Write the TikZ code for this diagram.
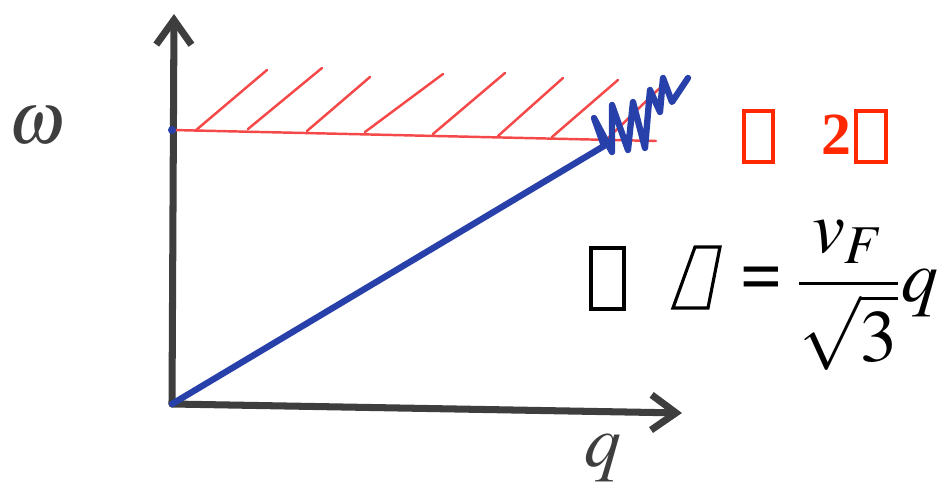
\documentclass[tikz,border=0pt]{standalone}
\usepackage{mathptmx}
\usepackage[no-math]{fontspec}
\setmainfont{Liberation Serif}
\usetikzlibrary{arrows.meta, positioning}
\definecolor{PenGray}{RGB}{62, 62, 62}
\definecolor{PenBlue}{RGB}{40, 64, 170}
\definecolor{PenRed}{RGB}{245, 72, 72}
\definecolor{TitleRed}{RGB}{255, 40, 0}

\begin{document}
\begin{tikzpicture}[x=0.01cm, y=-0.01cm,
		axis/.style={draw=PenGray, line width=2pt, line cap=round, -{Straight Barb[length=7pt, width=10pt]}},
		hatch/.style={draw=PenRed, line width=0.7pt, line cap=round},
		sound/.style={draw=PenBlue, line width=1.8pt, line cap=round, line join=round},
		tofu/.style={line width=1.1pt},
		hand/.style={text=PenGray, font=\fontsize{21}{25}\selectfont}]
	\useasboundingbox (0,0) rectangle (938,491);
	% axes
	\coordinate (O) at (172,404);
	\coordinate (ytop) at (174,14);
	\coordinate (xend) at (682,413);
	\draw[axis] (O) -- (ytop);
	\draw[axis] (O) -- (xend);
	\node[hand] (w) at (37,126) {$\omega$};
	\node[hand] (q) at (603,458) {$q$};
	% continuum edge with hatching
	\coordinate (c0) at (172,130);
	\coordinate (c1) at (656,141);
	\draw[hatch] (c0) -- (c1);
	\foreach \xa/\ya/\xb/\yb in {195/131/267/70, 248/129/322/68, 307/131/370/77, 365/132/443/74,
			433/134/505/73, 498/136/563/78, 552/137/618/80, 607/139/665/83}
		\draw[hatch] (\xa,\ya) -- (\xb,\yb);
	\fill[PenBlue] (c0) circle (4);
	% sound mode, damped at the edge
	\coordinate (damp) at (604,146);
	\draw[sound] (O) -- (damp) -- (594,118) -- (612,152) -- (612,105) -- (628,150) -- (633,102)
		-- (645,148) -- (650,90) -- (660,112) -- (663,78) -- (672,102) -- (688,78);
	% label (2)
	\node[anchor=base, text=TitleRed, font=\fontsize{17}{20}\selectfont\bfseries] (lab) at (836,155) {2};
	\draw[tofu, TitleRed] (744,111) rectangle (773,162);
	\draw[tofu, TitleRed] (856,111) rectangle (886,162);
	% dispersion
	\draw[tofu, line width=0.9pt] (591,248) rectangle (624,309);
	\draw[tofu, line width=0.9pt] (673,308) -- (708,308) -- (720,247) -- (695,247) -- cycle;
	\node[anchor=base west, inner sep=0pt, font=\fontsize{21}{26}\selectfont] (eq) at (740,302)
		{\nulldelimiterspace=0pt$\displaystyle \hbox{\bfseries =}\mkern4mu\frac{v_F}{\sqrt{3}}\mkern1mu q$};
\end{tikzpicture}
\end{document}
